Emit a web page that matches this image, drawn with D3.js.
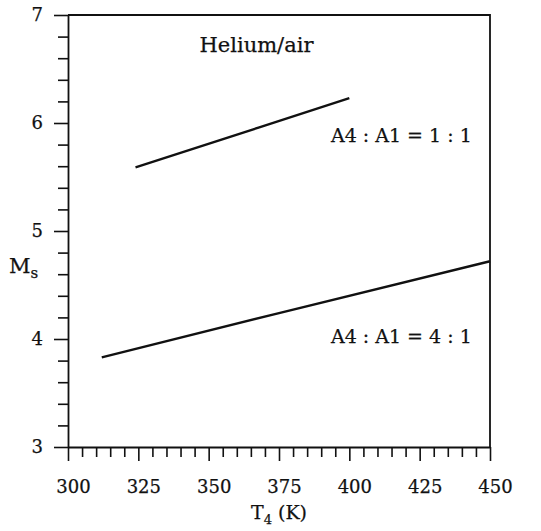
<!DOCTYPE html>
<html>
<head>
<meta charset="utf-8">
<script src="https://cdn.jsdelivr.net/npm/d3@7"></script>
<style>
  body { margin: 0; background: #fff; }
  svg text { font-family: "DejaVu Serif", serif; fill: #111; stroke: #111; stroke-width: 0.25px; }
</style>
</head>
<body>
<div class="chart"></div>
<script>
// data
const xTicks = [300, 325, 350, 375, 400, 425, 450]
const yTicks = [3, 4, 5, 6, 7]
const line11 = [[324, 5.59], [368, 5.96], [400, 6.23]]
const line41 = [[312, 3.83], [375, 4.24], [450, 4.72]]
const labels = [
  { text: 'Helium/air', t: 367, m: 6.66, size: 21 },
  { text: 'A4 : A1 = 1 : 1', t: 418.5, m: 5.82, size: 19 },
  { text: 'A4 : A1 = 4 : 1', t: 418.5, m: 3.96, size: 19 }
]

const width = 541, height = 531
const margin = { top: 15, right: 51, bottom: 84, left: 68 }
const w = width - margin.left - margin.right
const h = height - margin.top - margin.bottom

const svg = d3.select('.chart').append('svg')
  .attr('width', width).attr('height', height)
const g = svg.append('g').attr('transform', `translate(${margin.left},${margin.top})`)

const x = d3.scaleLinear().domain([300, 450]).range([0, w])
const y = d3.scaleLinear().domain([3, 7]).range([h, 0])

// frame (top and right sides)
g.append('path')
  .attr('d', `M0,0H${w}V${h}`)
  .attr('fill', 'none').attr('stroke', '#111').attr('stroke-width', 1.8)

// x axis - minor ticks every 5
const xAxis = d3.axisBottom(x).tickValues(d3.range(300, 451, 5))
  .tickSizeInner(10).tickSizeOuter(0)
  .tickFormat(d => xTicks.includes(d) ? d : '')
const xg = g.append('g').attr('transform', `translate(0,${h})`).call(xAxis)
xg.select('.domain').attr('stroke-width', 1.8).attr('stroke', '#111')
xg.selectAll('.tick line').attr('stroke', '#111').attr('stroke-width', 1.6)
  .attr('y2', d => d % 25 === 0 ? 14 : 10)
xg.selectAll('.tick text').attr('y', 33).attr('dx', 5)
  .style('font-size', '18px').style('font-family', '"DejaVu Serif", serif')

// y axis - minor ticks every 0.2
const yAxis = d3.axisLeft(y).tickValues(d3.range(0, 21).map(i => +(3 + i * 0.2).toFixed(1)))
  .tickSizeInner(10).tickSizeOuter(0)
  .tickFormat(d => yTicks.includes(d) ? d : '')
const yg = g.append('g').call(yAxis)
yg.select('.domain').attr('stroke-width', 1.8).attr('stroke', '#111')
yg.selectAll('.tick line').attr('stroke', '#111').attr('stroke-width', 1.6)
  .attr('x2', d => Number.isInteger(d) ? -14 : -10)
yg.selectAll('.tick text').attr('x', -25)
  .style('font-size', '18px').style('font-family', '"DejaVu Serif", serif')

// lines
const lineGen = d3.line().x(d => x(d[0])).y(d => y(d[1]))
g.selectAll('.series').data([line11, line41]).enter()
  .append('path').attr('class', 'series')
  .attr('d', d => lineGen(d))
  .attr('fill', 'none').attr('stroke', '#111').attr('stroke-width', 2.4)

// annotations
g.selectAll('.note').data(labels).enter()
  .append('text').attr('class', 'note')
  .attr('x', d => x(d.t)).attr('y', d => y(d.m))
  .attr('text-anchor', 'middle')
  .style('font-size', d => d.size + 'px')
  .text(d => d.text)

// axis titles
const xt = svg.append('text')
  .attr('x', margin.left + w / 2).attr('y', 519)
  .attr('text-anchor', 'middle').style('font-size', '19px')
xt.append('tspan').text('T')
xt.append('tspan').attr('dy', 5).style('font-size', '13px').text('4')
xt.append('tspan').attr('dy', -5).text(' (K)')

const yt = svg.append('text')
  .attr('x', 9).attr('y', 273).style('font-size', '21px')
yt.append('tspan').text('M')
yt.append('tspan').attr('dy', 5).style('font-size', '15px').text('s')
</script>
</body>
</html>
